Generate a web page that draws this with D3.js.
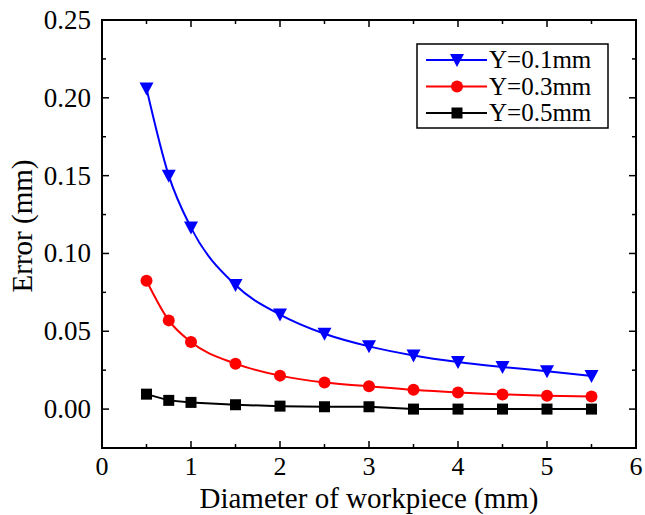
<!DOCTYPE html>
<html>
<head>
<meta charset="utf-8">
<script src="https://cdn.jsdelivr.net/npm/d3@7"></script>
<style>
  body { margin: 0; background: #fff; }
  text { font-family: "Liberation Serif", "Times New Roman", serif; }
</style>
</head>
<body>
<div id="chart"></div>
<script>
// diameter of workpiece (mm)
const diameters = [0.5, 0.75, 1, 1.5, 2, 2.5, 3, 3.5, 4, 4.5, 5, 5.5];

// error (mm) for each Y offset
const errY01 = [0.206, 0.150, 0.1166, 0.0797, 0.0607, 0.0484, 0.0403, 0.0345, 0.0303, 0.0271, 0.0243, 0.0213];
const errY03 = [0.0825, 0.057, 0.0431, 0.0292, 0.0215, 0.0171, 0.0147, 0.0124, 0.0107, 0.0094, 0.0086, 0.0081];
const errY05 = [0.0096, 0.0056, 0.0043, 0.0028, 0.0019, 0.0015, 0.0015, 0.0, 0.0, 0.0, 0.0, 0.0];

const xTicks = [0, 1, 2, 3, 4, 5, 6];
const yTicks = [0.00, 0.05, 0.10, 0.15, 0.20, 0.25];

const series = [
  { name: 'Y=0.1mm', values: errY01, color: '#0000ff', symbol: 'tri', smooth: true },
  { name: 'Y=0.3mm', values: errY03, color: '#ff0000', symbol: 'circle', smooth: true },
  { name: 'Y=0.5mm', values: errY05, color: '#000000', symbol: 'square', smooth: false }
];

const width = 645, height = 515;
const margin = { top: 20, right: 9, bottom: 67, left: 102 };

const svg = d3.select('#chart')
  .append('svg')
  .attr('width', width)
  .attr('height', height);

const x = d3.scaleLinear().domain([0, 6]).range([margin.left, width - margin.right]);
const y = d3.scaleLinear().domain([-0.025, 0.25]).range([height - margin.bottom, margin.top]);

const x0 = margin.left, x1 = width - margin.right;
const y0 = height - margin.bottom, y1 = margin.top;

// ticks, inward on all four sides
const tickG = svg.append('g').attr('stroke', '#000').attr('stroke-width', 1.5);
const xMinor = d3.range(0.5, 6, 1);
const yMinor = d3.range(-0.025, 0.25, 0.05);

xTicks.forEach(t => {
  tickG.append('line').attr('x1', x(t)).attr('x2', x(t)).attr('y1', y0).attr('y2', y0 - 7);
  tickG.append('line').attr('x1', x(t)).attr('x2', x(t)).attr('y1', y1).attr('y2', y1 + 7);
});
xMinor.forEach(t => {
  tickG.append('line').attr('x1', x(t)).attr('x2', x(t)).attr('y1', y0).attr('y2', y0 - 4);
  tickG.append('line').attr('x1', x(t)).attr('x2', x(t)).attr('y1', y1).attr('y2', y1 + 4);
});
yTicks.forEach(t => {
  tickG.append('line').attr('x1', x0).attr('x2', x0 + 7).attr('y1', y(t)).attr('y2', y(t));
  tickG.append('line').attr('x1', x1).attr('x2', x1 - 7).attr('y1', y(t)).attr('y2', y(t));
});
yMinor.forEach(t => {
  tickG.append('line').attr('x1', x0).attr('x2', x0 + 4).attr('y1', y(t)).attr('y2', y(t));
  tickG.append('line').attr('x1', x1).attr('x2', x1 - 4).attr('y1', y(t)).attr('y2', y(t));
});

// frame
svg.append('rect')
  .attr('x', x0).attr('y', y1)
  .attr('width', x1 - x0).attr('height', y0 - y1)
  .attr('fill', 'none').attr('stroke', '#000').attr('stroke-width', 2);

// tick labels
svg.append('g').selectAll('text')
  .data(xTicks)
  .enter()
  .append('text')
  .attr('x', d => x(d))
  .attr('y', y0 + 27)
  .attr('text-anchor', 'middle')
  .attr('font-size', 26)
  .text(d => d);

svg.append('g').selectAll('text')
  .data(yTicks)
  .enter()
  .append('text')
  .attr('x', x0 - 11)
  .attr('y', d => y(d) + 9)
  .attr('text-anchor', 'end')
  .attr('font-size', 27)
  .text(d => d.toFixed(2));

// axis titles
svg.append('text')
  .attr('x', (x0 + x1) / 2)
  .attr('y', 508)
  .attr('text-anchor', 'middle')
  .attr('font-size', 29)
  .text('Diameter of workpiece (mm)');

svg.append('text')
  .attr('transform', `translate(32, ${(y0 + y1) / 2 - 8}) rotate(-90)`)
  .attr('text-anchor', 'middle')
  .attr('font-size', 29)
  .text('Error (mm)');

// markers
function drawSymbol(g, kind, cx, cy, color) {
  if (kind === 'tri') {
    g.append('path')
      .attr('d', `M${cx - 7},${cy - 6} L${cx + 7},${cy - 6} L${cx},${cy + 7} Z`)
      .attr('fill', color);
  } else if (kind === 'circle') {
    g.append('circle').attr('cx', cx).attr('cy', cy).attr('r', 6).attr('fill', color);
  } else {
    g.append('rect').attr('x', cx - 5.5).attr('y', cy - 5.5).attr('width', 11).attr('height', 11).attr('fill', color);
  }
}

series.forEach(s => {
  const pts = diameters.map((d, i) => [d, s.values[i]]);
  const line = d3.line()
    .x(d => x(d[0]))
    .y(d => y(d[1]))
    .curve(s.smooth ? d3.curveMonotoneX : d3.curveLinear);
  svg.append('path')
    .datum(pts)
    .attr('d', line)
    .attr('fill', 'none')
    .attr('stroke', s.color)
    .attr('stroke-width', 2);
  const g = svg.append('g');
  pts.forEach(p => drawSymbol(g, s.symbol, x(p[0]), y(p[1]), s.color));
});

// legend
const legend = svg.append('g');
legend.append('rect')
  .attr('x', 417).attr('y', 44)
  .attr('width', 191).attr('height', 84)
  .attr('fill', '#fff').attr('stroke', '#000').attr('stroke-width', 1.5);

series.forEach((s, i) => {
  const ly = 60 + i * 26.5;
  legend.append('line')
    .attr('x1', 426).attr('x2', 487)
    .attr('y1', ly).attr('y2', ly)
    .attr('stroke', s.color).attr('stroke-width', 2);
  drawSymbol(legend, s.symbol, 457, ly, s.color);
  legend.append('text')
    .attr('x', 489)
    .attr('y', ly + 8)
    .attr('font-size', 25)
    .text(s.name);
});
</script>
</body>
</html>
